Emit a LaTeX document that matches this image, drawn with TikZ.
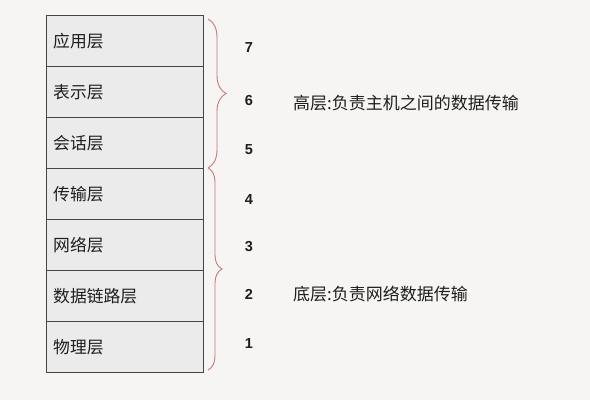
\documentclass[tikz,border=0pt]{standalone}
\usepackage{fontspec}
\setmainfont{Liberation Sans}
\newfontfamily\cjk{Noto Sans CJK SC}
\usetikzlibrary{decorations.pathreplacing}
\definecolor{bg}{RGB}{246,245,244}
\definecolor{cellfill}{RGB}{235,235,235}
\definecolor{cellline}{RGB}{70,70,70}
\definecolor{bracecol}{RGB}{196,120,120}
\definecolor{txt}{RGB}{30,30,30}
\begin{document}
\begin{tikzpicture}[x=1pt,y=-1pt,
  layer/.style={draw=cellline,line width=1pt,fill=cellfill,minimum width=157pt,minimum height=51pt,inner sep=0pt,outer sep=0pt,anchor=north west},
  layertext/.style={anchor=west,font=\cjk\fontsize{16.8}{17}\selectfont,text=txt,inner sep=0pt},
  num/.style={font=\bfseries\fontsize{14.5}{15}\selectfont,text=txt,inner sep=0pt},
  desc/.style={anchor=west,font=\cjk\fontsize{17}{17}\selectfont,text=txt,inner sep=0pt},
  bracedeco/.style={draw=bracecol,line width=0.9pt,decorate,decoration={brace,amplitude=#1}}
]
\fill[bg] (0,0) rectangle (590,400);
\useasboundingbox (0,0) rectangle (590,400);

\node[layer] (l7) at (46,15) {};
\node[layer] (l6) at (46,66) {};
\node[layer] (l5) at (46,117) {};
\node[layer] (l4) at (46,168) {};
\node[layer] (l3) at (46,219) {};
\node[layer] (l2) at (46,270) {};
\node[layer] (l1) at (46,321) {};

\node[layertext] (t7) at (53,41) {应用层};
\node[layertext] (t6) at (53,92) {表示层};
\node[layertext] (t5) at (53,143) {会话层};
\node[layertext] (t4) at (53,194) {传输层};
\node[layertext] (t3) at (53,245) {网络层};
\node[layertext] (t2) at (53,296) {数据链路层};
\node[layertext] (t1) at (53,347) {物理层};

\node[num] (n7) at (249,48) {7};
\node[num] (n6) at (249,101) {6};
\node[num] (n5) at (249,150) {5};
\node[num] (n4) at (249,200) {4};
\node[num] (n3) at (249,247) {3};
\node[num] (n2) at (249,294) {2};
\node[num] (n1) at (249,344) {1};

\coordinate (b1top) at (208,19);
\coordinate (b1bot) at (208,168);
\coordinate (b2top) at (208,168);
\coordinate (b2bot) at (208,370);
\draw[bracedeco=18pt] (b1top) -- (b1bot);
\draw[bracedeco=14pt] (b2top) -- (b2bot);

\node[desc] (high) at (293,103) {高层:负责主机之间的数据传输};
\node[desc] (low) at (293,294) {底层:负责网络数据传输};
\end{tikzpicture}
\end{document}
